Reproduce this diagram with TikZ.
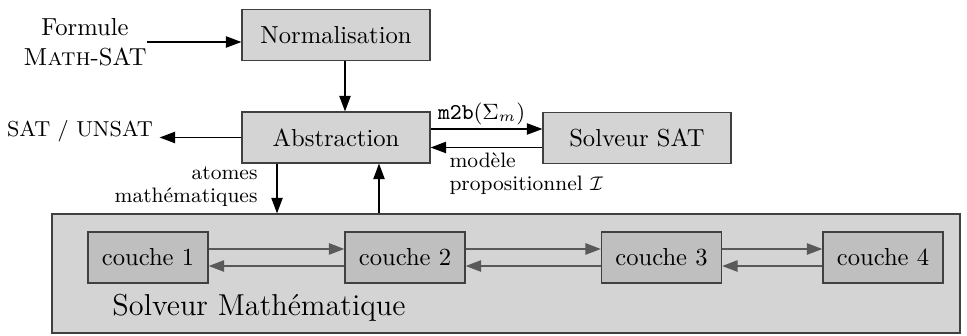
\documentclass[tikz,border=0pt]{standalone}
\usetikzlibrary{arrows.meta}
\definecolor{boxfill}{gray}{0.83}
\definecolor{laydraw}{gray}{0.75}
\definecolor{edge}{gray}{0.25}
\definecolor{linkcol}{gray}{0.35}
\tikzset{
  box/.style={draw=edge, line width=0.5pt, fill=boxfill, inner sep=0pt,
     minimum width=76.4pt, minimum height=20.7pt},
  layer/.style={draw=edge, line width=0.5pt, fill=laydraw, inner sep=0pt,
     minimum width=48.8pt, minimum height=20.7pt},
  arr/.style={line width=0.5pt, -{Triangle[length=6.3pt,width=4.6pt]}},
  larr/.style={arr, draw=linkcol, line width=0.7pt},
  lbl/.style={inner sep=0pt, font=\fontsize{8.5}{9.4}\selectfont, align=left}
}
\begin{document}
\begin{tikzpicture}[x=0.4065pt, y=-0.4065pt]
\useasboundingbox (0,0) rectangle (967,336);
% nodes
\node[box] (norm) at (336,35) {Normalisation};
\node[box] (abs) at (336,137.5) {Abstraction};
\node[box] (sat) at (637,138) {Solveur SAT};
\node[inner sep=0pt, align=center] (fm) at (85,42) {Formule\\\textsc{Math}-SAT};
\node[inner sep=0pt, font=\fontsize{8.8}{10}\selectfont] (res) at (80,131) {SAT / UNSAT};
\node[draw=edge, line width=0.5pt, fill=boxfill, inner sep=0pt,
      minimum width=369.1pt, minimum height=48.4pt] (math) at (506,273.5) {};
\node[layer] (c1) at (148,257.5) {couche 1};
\node[layer] (c2) at (405,257.5) {couche 2};
\node[layer] (c3) at (661.5,257.5) {couche 3};
\node[layer] (c4) at (883,257.5) {couche 4};
\node[inner sep=0pt, anchor=west, font=\fontsize{12.3}{14}\selectfont] (mtitle) at (112,308) {Solveur Math\'ematique};
% connectors
\draw[arr] (fm.east) -- (fm.east -| norm.west);
\draw[arr] ([xshift=3.66pt]norm.south) -- ([xshift=3.66pt]abs.north);
\draw[arr] (abs.west) -- ([xshift=2.5pt]abs.west -| res.east) coordinate (resend);
\draw[arr] ([yshift=3.46pt]abs.east) -- ([yshift=3.46pt]abs.east -| sat.west)
   node[midway, above=1.5pt, inner sep=0pt, xshift=-2pt] (m2b) {\fontsize{9.2}{11}\selectfont\texttt{m2b}$(\Sigma_m)$};
\draw[arr] ([yshift=-3.86pt]sat.west) -- ([yshift=-3.86pt]sat.west -| abs.east) coordinate (modend);
\node[lbl, anchor=north west] (mod) at (449,152) {mod\`ele\\propositionnel $\mathcal{I}$};
\draw[arr] ([xshift=-23.98pt]abs.south) -- ([xshift=-23.98pt]abs.south |- math.north);
\draw[arr] ([xshift=17.48pt]abs.south |- math.north) -- ([xshift=17.48pt]abs.south);
\node[lbl, align=right, anchor=north east] (atm) at (258,166) {atomes\\math\'ematiques};
\foreach \a/\b in {c1/c2, c2/c3, c3/c4}{
  \draw[larr] ([yshift=3.46pt]\a.east) -- ([yshift=3.46pt]\a.east -| \b.west);
  \draw[larr] ([yshift=-3.46pt]\b.west) -- ([yshift=-3.46pt]\b.west -| \a.east);
}
\end{tikzpicture}
\end{document}
